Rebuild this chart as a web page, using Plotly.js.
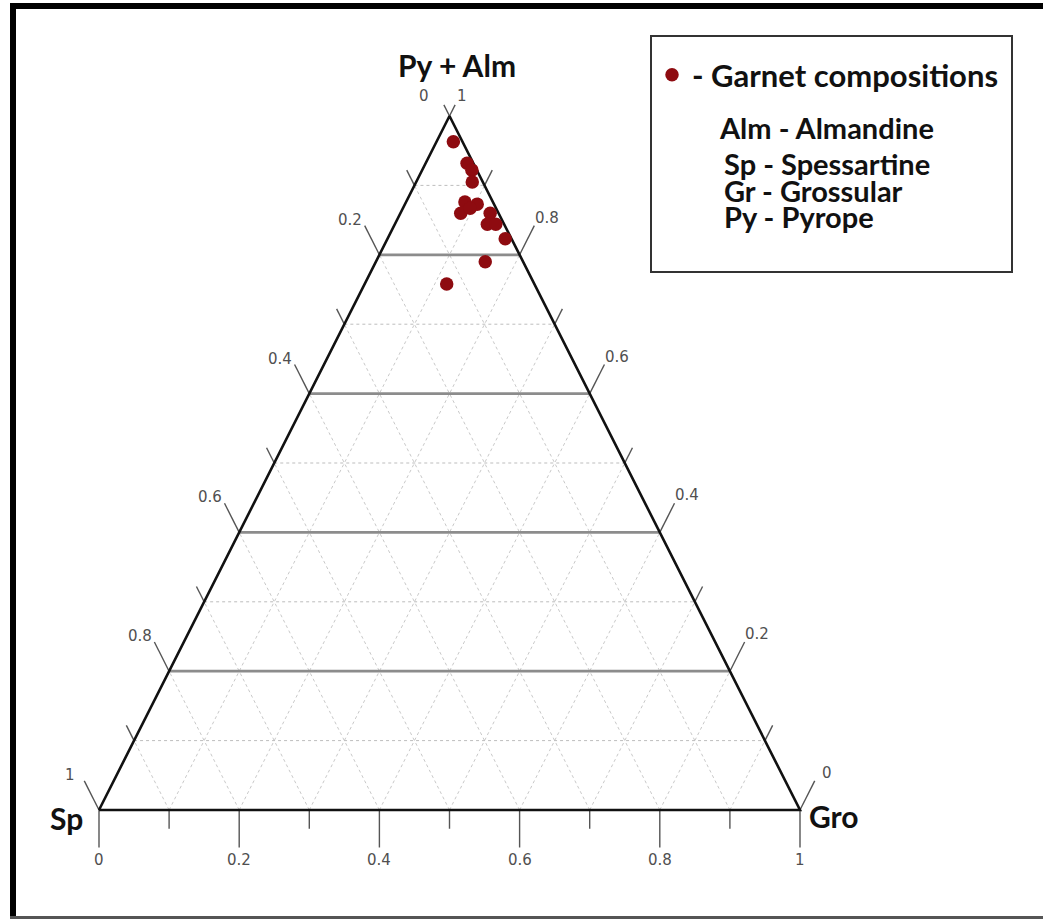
<!DOCTYPE html>
<html>
<head>
<meta charset="utf-8">
<script src="https://cdn.plot.ly/plotly-3.0.1.min.js"></script>
<style>
  html, body { margin: 0; padding: 0; background: #ffffff; }
  #plot { width: 1043px; height: 919px; }
</style>
</head>
<body>
<div id="plot"></div>
<script>
// Garnet end-member fractions (Py+Alm, Sp, Gro) for each analysed grain
const pyAlm = [0.963, 0.932, 0.922, 0.905, 0.876, 0.873, 0.860, 0.867, 0.860, 0.844, 0.844, 0.823, 0.790, 0.758];
const spess = [0.013, 0.009, 0.007, 0.015, 0.040, 0.024, 0.054, 0.037, 0.012, 0.024, 0.012, 0.009, 0.054, 0.125];
const gross = [0.024, 0.059, 0.071, 0.080, 0.084, 0.103, 0.086, 0.096, 0.128, 0.132, 0.144, 0.168, 0.156, 0.117];

// Axis tick positions (fractions) and the labelled ones
const tickSteps = [0, 0.1, 0.2, 0.3, 0.4, 0.5, 0.6, 0.7, 0.8, 0.9, 1];
const labelSteps = [0, 0.2, 0.4, 0.6, 0.8, 1];

// Corner names and key entries
const cornerTop = 'Py + Alm';
const cornerLeft = 'Sp';
const cornerRight = 'Gro';
const seriesName = '- Garnet compositions';
const keyLines = ['Alm - Almandine', 'Sp - Spessartine', 'Gr - Grossular', 'Py - Pyrope'];

(function () {
  // Ternary -> cartesian: Sp at (0,0), Gro at (1,0), Py+Alm at (0.5,1)
  function proj(a, b, c) {
    const s = a + b + c;
    return [(c + a / 2) / s, a / s];
  }
  const fmt = v => String(+v.toFixed(1));
  const near = (u, v) => Math.abs(u - v) < 1e-9;
  const isMajor = v => labelSteps.some(m => near(m, v));

  function segs(list) {
    const x = [], y = [];
    list.forEach(([p, q]) => { x.push(p[0], q[0], null); y.push(p[1], q[1], null); });
    return {x, y};
  }
  function lineTrace(list, color, width, dash) {
    const s = segs(list);
    return {type: 'scatter', mode: 'lines', x: s.x, y: s.y, hoverinfo: 'skip', showlegend: false,
            line: {color: color, width: width, dash: dash || 'solid'}};
  }

  const inner = tickSteps.filter(v => v > 0 && v < 1);

  // Diagonal grid: constant Gro and constant Sp
  const diag = [];
  inner.forEach(v => {
    diag.push([proj(0, 1 - v, v), proj(1 - v, 0, v)]);
    diag.push([proj(0, v, 1 - v), proj(1 - v, v, 0)]);
  });
  // Horizontal grid: constant Py+Alm
  const hMajor = [], hMinor = [];
  inner.forEach(a => {
    const seg = [proj(a, 1 - a, 0), proj(a, 0, 1 - a)];
    (isMajor(a) ? hMajor : hMinor).push(seg);
  });

  // Ticks on the three edges
  const ticks = [];
  tickSteps.forEach(v => {
    const t = near(v, 1) ? 0.016 : (isMajor(v) ? 0.042 : 0.022);
    // left edge (Gro = 0): tick continues the constant-Sp line outward
    const pl = proj(v, 1 - v, 0);
    ticks.push([pl, [pl[0] - t / 2, pl[1] + t]]);
    // right edge (Sp = 0): tick continues the constant-Gro line outward
    const pr = proj(v, 0, 1 - v);
    ticks.push([pr, [pr[0] + t / 2, pr[1] + t]]);
    // bottom edge: vertical ticks
    const pb = proj(0, 1 - v, v);
    const tb = isMajor(v) ? 0.054 : 0.027;
    ticks.push([pb, [pb[0], pb[1] - tb]]);
  });

  const edges = [proj(0, 1, 0), proj(1, 0, 0), proj(0, 0, 1), proj(0, 1, 0)];
  const pts = pyAlm.map((a, i) => proj(a, spess[i], gross[i]));

  const traces = [
    lineTrace(diag, '#c9c9c9', 1, 'dot'),
    lineTrace(hMinor, '#bdbdbd', 1, 'dot'),
    lineTrace(hMajor, '#8c8c8c', 2.8),
    lineTrace(ticks, '#555555', 1.4),
    {type: 'scatter', mode: 'lines', x: edges.map(p => p[0]), y: edges.map(p => p[1]),
     hoverinfo: 'skip', showlegend: false, line: {color: '#111111', width: 2.6}},
    {type: 'scatter', mode: 'markers', name: seriesName,
     x: pts.map(p => p[0]), y: pts.map(p => p[1]),
     customdata: pyAlm.map((a, i) => [a, spess[i], gross[i]]),
     hovertemplate: 'Py+Alm %{customdata[0]}<br>Sp %{customdata[1]}<br>Gro %{customdata[2]}<extra></extra>',
     marker: {color: '#8e0b10', size: 13.5, line: {width: 0}}}
  ];

  const tickFont = {family: 'DejaVu Sans', size: 15, color: '#505050'};
  const boldFont = {family: 'Lato', size: 30, color: '#111111', weight: 'bold'};

  const annotations = [];
  labelSteps.forEach(v => {
    const apexPt = near(v, 1);
    const pl = proj(v, 1 - v, 0);
    annotations.push({x: pl[0], y: pl[1], xref: 'x', yref: 'y', text: fmt(1 - v), showarrow: false,
                      font: tickFont, xshift: apexPt ? -26 : -29, yshift: apexPt ? 20 : 35});
    const pr = proj(v, 0, 1 - v);
    annotations.push({x: pr[0], y: pr[1], xref: 'x', yref: 'y', text: fmt(v), showarrow: false,
                      font: tickFont, xshift: apexPt ? 12 : 27, yshift: apexPt ? 20 : 37});
    const pb = proj(0, 1 - v, v);
    annotations.push({x: pb[0], y: pb[1], xref: 'x', yref: 'y', text: fmt(v), showarrow: false,
                      font: tickFont, yshift: -50});
  });
  const apex = proj(1, 0, 0), cornerSp = proj(0, 1, 0), cornerGro = proj(0, 0, 1);
  annotations.push({x: apex[0], y: apex[1], xref: 'x', yref: 'y', text: cornerTop, showarrow: false,
                    font: boldFont, xshift: 7, yshift: 51});
  annotations.push({x: cornerSp[0], y: cornerSp[1], xref: 'x', yref: 'y', text: cornerLeft, showarrow: false,
                    font: boldFont, xshift: -33, yshift: -8});
  annotations.push({x: cornerGro[0], y: cornerGro[1], xref: 'x', yref: 'y', text: cornerRight, showarrow: false,
                    font: boldFont, xshift: 34, yshift: -6});

  // Key box text lines
  const W = 1043, H = 919;
  const keyX = [717, 722, 722, 722];
  const keyY = [127, 163, 190, 216];
  keyLines.forEach((t, i) => {
    annotations.push({x: keyX[i] / W, y: 1 - keyY[i] / H, xref: 'paper', yref: 'paper', text: t,
                      showarrow: false, xanchor: 'left', yanchor: 'middle',
                      font: {family: 'Lato', size: 29, color: '#111111', weight: 'bold'}});
  });

  const shapes = [
    // key frame
    {type: 'rect', xref: 'paper', yref: 'paper', x0: 651 / W, x1: 1012 / W, y0: 1 - 36 / H, y1: 1 - 272 / H,
     line: {color: '#333333', width: 2}},
    // picture frame
    {type: 'line', xref: 'paper', yref: 'paper', x0: 13 / W, x1: 13 / W, y0: 1 - 3 / H, y1: 0,
     line: {color: '#000000', width: 6}},
    {type: 'line', xref: 'paper', yref: 'paper', x0: 10 / W, x1: 1, y0: 1 - 6 / H, y1: 1 - 6 / H,
     line: {color: '#000000', width: 6}},
    {type: 'line', xref: 'paper', yref: 'paper', x0: 10 / W, x1: 1, y0: 1 - 917.5 / H, y1: 1 - 917.5 / H,
     line: {color: '#555555', width: 3}}
  ];

  const layout = {
    width: W, height: H,
    margin: {l: 0, r: 0, t: 0, b: 0},
    paper_bgcolor: '#ffffff', plot_bgcolor: '#ffffff',
    xaxis: {range: [-99 / 701, (W - 99) / 701], visible: false, fixedrange: true},
    yaxis: {range: [-(H - 810) / 694, 1 + 116 / 694], visible: false, fixedrange: true},
    showlegend: true,
    legend: {x: 652 / W, y: 1 - 75 / H, xanchor: 'left', yanchor: 'middle', bgcolor: 'rgba(0,0,0,0)',
             font: {family: 'Lato', size: 31, color: '#111111', weight: 'bold'}},
    annotations: annotations,
    shapes: shapes
  };

  Plotly.newPlot('plot', traces, layout, {displayModeBar: false, staticPlot: true});
})();
</script>
</body>
</html>
